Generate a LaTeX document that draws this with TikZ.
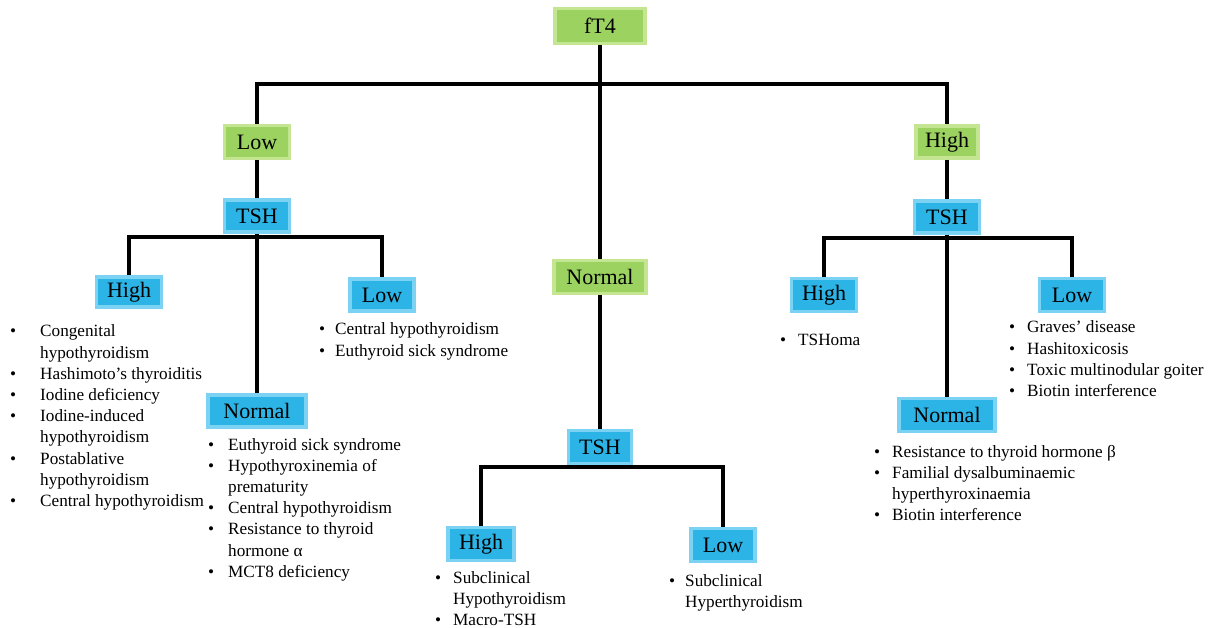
\documentclass[tikz,border=0pt]{standalone}
\usepackage{fontspec}
\setmainfont{Liberation Serif}
\definecolor{greenfill}{RGB}{156,210,96}
\definecolor{greenedge}{RGB}{196,230,146}
\definecolor{bluefill}{RGB}{44,180,230}
\definecolor{blueedge}{RGB}{124,210,242}
\newlength{\bw}
\newcommand{\bi}{\makebox[\bw][l]{\textbullet}}
\tikzset{
  gbox/.style={draw=greenedge, fill=greenfill, line width=3.5pt, inner sep=0pt,
    font=\fontsize{22}{24}\selectfont, text=black},
  bbox/.style={draw=blueedge, fill=bluefill, line width=3.5pt, inner sep=0pt,
    font=\fontsize{22}{24}\selectfont, text=black},
  listtext/.style={inner sep=0pt, anchor=base west, text=black,
    font=\fontsize{17.2}{21.2}\selectfont},
  conn/.style={line width=3.2pt, black}
}
\begin{document}
\begin{tikzpicture}[x=1pt,y=-1pt]
\useasboundingbox (0,0) rectangle (1216,628);
% boxes
\node[gbox, minimum width=90pt, minimum height=35pt] (ft4) at (600,26) {fT4};
\node[gbox, minimum width=65pt, minimum height=33pt] (lowG) at (257,142) {Low};
\node[gbox, minimum width=62pt, minimum height=32pt] (highG) at (947,142) {High};
\node[gbox, minimum width=92pt, minimum height=33pt] (normG) at (600,277) {Normal};
\node[bbox, minimum width=65pt, minimum height=32pt] (tshL) at (257,216) {TSH};
\node[bbox, minimum width=65pt, minimum height=32pt] (tshR) at (947,217) {TSH};
\node[bbox, minimum width=63pt, minimum height=33pt] (tshC) at (600,447) {TSH};
\node[bbox, minimum width=65pt, minimum height=30pt] (hiL) at (129,292) {High};
\node[bbox, minimum width=64pt, minimum height=32pt] (loL) at (382,295) {Low};
\node[bbox, minimum width=98pt, minimum height=32pt] (noL) at (257,411) {Normal};
\node[bbox, minimum width=66pt, minimum height=33pt] (hiC) at (481,544) {High};
\node[bbox, minimum width=64pt, minimum height=33pt] (loC) at (723,545) {Low};
\node[bbox, minimum width=65pt, minimum height=33pt] (hiR) at (824,295) {High};
\node[bbox, minimum width=65pt, minimum height=33pt] (loR) at (1072,295) {Low};
\node[bbox, minimum width=96pt, minimum height=33pt] (noR) at (947,415) {Normal};
% bus coordinates
\coordinate (bus1) at (600,84);
\coordinate (bus2) at (257,237);
\coordinate (bus3) at (947,238);
\coordinate (bus4) at (600,467);
% connectors
\draw[conn] (ft4.south) -- (normG.north);
\draw[conn] (lowG.north) |- (bus1) -| (highG.north);
\draw[conn] (lowG.south) -- (tshL.north);
\draw[conn] (highG.south) -- (tshR.north);
\draw[conn] (tshL.south) -- (noL.north);
\draw[conn] (hiL.north) |- (bus2) -| (loL.north);
\draw[conn] (tshR.south) -- (noR.north);
\draw[conn] (hiR.north) |- (bus3) -| (loR.north);
\draw[conn] (normG.south) -- (tshC.north);
\draw[conn] (hiC.north) |- (bus4) -| (loC.north);
% lists
\setlength{\bw}{30pt}
\node[listtext] (listHL) at (10,337) {\begin{tabular}[t]{@{}l@{}l@{}}
\bi & Congenital\\
 & hypothyroidism\\
\bi & Hashimoto’s thyroiditis\\
\bi & Iodine deficiency\\
\bi & Iodine-induced\\
 & hypothyroidism\\
\bi & Postablative\\
 & hypothyroidism\\
\bi & Central hypothyroidism
\end{tabular}};
\node[listtext] (listLL) at (319,335) {\setlength{\bw}{16pt}\begin{tabular}[t]{@{}l@{}l@{}}
\bi & Central hypothyroidism\\
\bi & Euthyroid sick syndrome
\end{tabular}};
\node[listtext] (listNL) at (208,450) {\setlength{\bw}{20pt}\begin{tabular}[t]{@{}l@{}l@{}}
\bi & Euthyroid sick syndrome\\
\bi & Hypothyroxinemia of\\
 & prematurity\\
\bi & Central hypothyroidism\\
\bi & Resistance to thyroid\\
 & hormone α\\
\bi & MCT8 deficiency
\end{tabular}};
\node[listtext] (listHC) at (435,583) {\setlength{\bw}{18pt}\begin{tabular}[t]{@{}l@{}l@{}}
\bi & Subclinical\\
 & Hypothyroidism\\
\bi & Macro-TSH
\end{tabular}};
\node[listtext] (listLC) at (669,586) {\setlength{\bw}{16pt}\begin{tabular}[t]{@{}l@{}l@{}}
\bi & Subclinical\\
 & Hyperthyroidism
\end{tabular}};
\node[listtext] (listHR) at (780,345) {\setlength{\bw}{18pt}\begin{tabular}[t]{@{}l@{}l@{}}
\bi & TSHoma
\end{tabular}};
\node[listtext] (listLR) at (1009,333) {\setlength{\bw}{18pt}\begin{tabular}[t]{@{}l@{}l@{}}
\bi & Graves’ disease\\
\bi & Hashitoxicosis\\
\bi & Toxic multinodular goiter\\
\bi & Biotin interference
\end{tabular}};
\node[listtext] (listNR) at (874,457) {\setlength{\bw}{18pt}\begin{tabular}[t]{@{}l@{}l@{}}
\bi & Resistance to thyroid hormone β\\
\bi & Familial dysalbuminaemic\\
 & hyperthyroxinaemia\\
\bi & Biotin interference
\end{tabular}};
\end{tikzpicture}
\end{document}
